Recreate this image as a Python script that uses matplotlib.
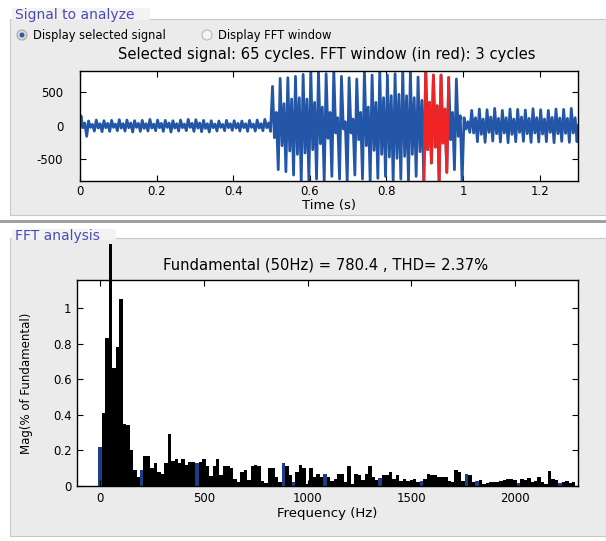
import matplotlib
matplotlib.use('Agg')
import matplotlib.pyplot as plt
from matplotlib.patches import Rectangle, Circle
import numpy as np

plt.rcParams['font.family'] = ['DejaVu Sans']
plt.rcParams['axes.unicode_minus'] = False

# ---------------- data ----------------
f0 = 50.0                 # fundamental (Hz)
n_cycles = 65
red_cycles = [45, 46, 47]  # FFT window (3 cycles)

# per-cycle extremes of the signal (outer max/min, inner max/min)
sig_omax = [150, 70, 85, 75, 80, 90, 85, 75, 80, 95, 85, 80, 75, 85, 95, 90, 80, 75, 70, 80, 75, 70, 80, 85, 95,
            590, 710, 720, 740, 770, 840, 830, 780, 840, 740, 720, 700, 840, 760, 840, 760, 780, 840, 840, 730,
            840, 760, 760, 720, 700,
            120, 230, 250, 240, 260, 230, 250, 245, 235, 255, 240, 230, 250, 245, 260]
sig_omin = [-160, -80, -90, -85, -75, -80, -95, -85, -80, -75, -85, -95, -80, -75, -85, -90, -95, -80, -75, -70, -80, -85, -80, -75, -85,
            -660, -690, -740, -840, -840, -800, -840, -760, -800, -840, -740, -800, -840, -790, -760, -840, -800, -840, -760, -840,
            -560, -840, -700, -660, -840,
            -100, -240, -250, -230, -245, -255, -240, -235, -250, -245, -240, -255, -235, -250, -240]
sig_imax = [40, 20, 30, 35, 25, 30, 40, 35, 30, 25, 35, 40, 30, 25, 35, 40, 30, 25, 20, 30, 35, 30, 25, 30, 40,
            200, 330, 400, 420, 400, 350, 280, 200, 120, 60, 100, 200, 280, 350, 420, 450, 470, 450, 420, 380,
            350, 300, 250, 200, 150,
            60, 120, 100, 130, 110, 120, 100, 130, 110, 120, 100, 125, 115, 110, 120]
sig_imin = [-30, -25, -35, -30, -25, -35, -30, -25, -40, -35, -30, -25, -35, -30, -25, -35, -40, -30, -25, -30, -35, -30, -25, -35, -30,
            -180, -300, -380, -430, -410, -360, -270, -190, -110, -50, -110, -210, -300, -370, -430, -470, -490, -460, -430, -390,
            -360, -320, -260, -210, -160,
            -50, -110, -130, -100, -120, -110, -130, -100, -120, -110, -125, -100, -120, -115, -110]

# FFT magnitudes (bin spacing = f0/3), index 3 = fundamental
fft_mag = [0.22, 0.41, 0.83, 1.36, 0.66, 0.78, 1.05, 0.35, 0.34, 0.20,
           0.09, 0.05, 0.09, 0.17, 0.17, 0.10, 0.13, 0.08, 0.07, 0.13,
           0.29, 0.14, 0.15, 0.13, 0.15, 0.12, 0.137, 0.137, 0.13, 0.135,
           0.15, 0.11, 0.056, 0.11, 0.15, 0.06, 0.115, 0.115, 0.10, 0.04,
           0.025, 0.08, 0.09, 0.035, 0.115, 0.118, 0.115, 0.03, 0.015, 0.10,
           0.10, 0.05, 0.02, 0.13, 0.11, 0.06, 0.02, 0.08, 0.12, 0.10,
           0.01, 0.10, 0.05, 0.065, 0.05, 0.07, 0.05, 0.03, 0.04, 0.07,
           0.07, 0.025, 0.115, 0.01, 0.07, 0.06, 0.035, 0.065, 0.115, 0.05,
           0.035, 0.045, 0.06, 0.06, 0.08, 0.04, 0.06, 0.03, 0.04, 0.03,
           0.035, 0.04, 0.025, 0.03, 0.04, 0.07, 0.06, 0.06, 0.05, 0.05,
           0.05, 0.03, 0.02, 0.09, 0.08, 0.03, 0.065, 0.06, 0.025, 0.03,
           0.035, 0.01, 0.015, 0.025, 0.02, 0.02, 0.03, 0.035, 0.04, 0.04,
           0.035, 0.015, 0.04, 0.035, 0.045, 0.02, 0.03, 0.05, 0.02, 0.01,
           0.085, 0.04, 0.035, 0.015, 0.025, 0.03, 0.015, 0.02]
blue_bins = [0, 12, 28, 53, 56, 65, 81, 93, 106, 109, 121, 133]

top_xticks = [0, 0.2, 0.4, 0.6, 0.8, 1.0, 1.2]
top_xticklabels = ['0', '0.2', '0.4', '0.6', '0.8', '1', '1.2']
top_yticks = [-500, 0, 500]
bot_xticks = [0, 500, 1000, 1500, 2000]
bot_yticks = [0, 0.2, 0.4, 0.6, 0.8, 1.0]
bot_yticklabels = ['0', '0.2', '0.4', '0.6', '0.8', '1']

caption_top = 'Selected signal: 65 cycles. FFT window (in red): 3 cycles'
caption_bot = 'Fundamental (50Hz) = 780.4 , THD= 2.37%'

# ---------------- figure ----------------
W, H = 606, 541
fig = plt.figure(figsize=(W / 100, H / 100), dpi=100)
fig.patch.set_facecolor('white')

bg = fig.add_axes([0, 0, 1, 1], zorder=0)
bg.set_xlim(0, W)
bg.set_ylim(H, 0)
bg.axis('off')
panel = '#EBEBEB'
bg.add_patch(Rectangle((10, 19), W - 10, 196, fc=panel, ec='#C8C8C8', lw=0.8))
bg.add_patch(Rectangle((0, 220), W, 3, fc='#A0A0A0', ec='none'))
bg.add_patch(Rectangle((10, 238), W - 10, 298, fc=panel, ec='#C8C8C8', lw=0.8))
bg.add_patch(Rectangle((12, 8), 138, 12, fc='#F3F3F3', ec='none'))
bg.add_patch(Rectangle((12, 229), 104, 11, fc='#F3F3F3', ec='none'))
bg.text(15, 15, 'Signal to analyze', color='#4A4AB8', fontsize=10, va='center', ha='left')
bg.text(15, 236, 'FFT analysis', color='#4A4AB8', fontsize=10, va='center', ha='left')

# radio buttons
bg.add_patch(Circle((22, 35), 5, fc='#DADADA', ec='#A8A8A8', lw=0.8))
bg.add_patch(Circle((22, 35), 2.5, fc='#2A5CAA', ec='none'))
bg.add_patch(Circle((207, 35), 5, fc='#F4F4F4', ec='#B8B8B8', lw=0.8))
bg.text(33, 35, 'Display selected signal', fontsize=8.3, va='center', ha='left')
bg.text(218, 35, 'Display FFT window', fontsize=8.3, va='center', ha='left')

bg.text(327, 54, caption_top, fontsize=10.6, va='center', ha='center')
bg.text(326, 265, caption_bot, fontsize=10.6, va='center', ha='center')

# ---------------- top: signal ----------------
ax1 = fig.add_axes([80 / W, 1 - 180.7 / H, 498 / W, 110 / H], zorder=1)
T = 1.0 / f0
tt = [0.0]
yy = [0.0]
seg_start = {}
for k in range(n_cycles):
    t0 = k * T
    seg_start[k] = len(tt) - 1
    for frac, v in zip([0.125, 0.375, 0.625, 0.875],
                       [sig_omax[k], sig_imin[k], sig_imax[k], sig_omin[k]]):
        tt.append(t0 + frac * T)
        yy.append(v)
tt.append(n_cycles * T)
yy.append(0.0)
tt = np.array(tt)
yy = np.array(yy)
ax1.plot(tt, yy, color='#2456A8', lw=2.0)
i0 = seg_start[red_cycles[0]]
i1 = seg_start[red_cycles[-1]] + 5
ax1.plot(tt[i0:i1 + 1], yy[i0:i1 + 1], color='#F02424', lw=2.0)
ax1.set_xlim(0, 1.3)
ax1.set_ylim(-825, 825)
ax1.set_xticks(top_xticks)
ax1.set_xticklabels(top_xticklabels)
ax1.set_yticks(top_yticks)
ax1.tick_params(direction='in', top=True, right=True, length=4, width=0.8,
                labelsize=8.5, pad=3)
ax1.tick_params(axis='y', pad=12)
ax1.set_xlabel('Time (s)', fontsize=9.5, labelpad=1)
for s in ax1.spines.values():
    s.set_linewidth(1.0)

# ---------------- bottom: FFT ----------------
ax2 = fig.add_axes([77 / W, 1 - 486 / H, 501 / W, 206 / H], zorder=1)
freqs = np.arange(len(fft_mag)) * f0 / 3.0
colors = ['#1E3C8C' if i in blue_bins else 'black' for i in range(len(fft_mag))]
bars = ax2.bar(freqs, fft_mag, width=f0 / 3.0, color=colors, edgecolor='none')
bars[3].set_clip_on(False)
ax2.set_xlim(-112, 2304)
ax2.set_ylim(0, 1.157)
ax2.set_xticks(bot_xticks)
ax2.set_yticks(bot_yticks)
ax2.set_yticklabels(bot_yticklabels)
ax2.tick_params(direction='in', top=True, right=True, length=4, width=0.8,
                labelsize=8.5, pad=4)
ax2.set_xlabel('Frequency (Hz)', fontsize=9.5, labelpad=2)
ax2.set_ylabel('Mag(% of Fundamental)', fontsize=8.5, labelpad=14)
for s in ax2.spines.values():
    s.set_linewidth(1.0)

fig.savefig('out.png', dpi=100, facecolor='white')
